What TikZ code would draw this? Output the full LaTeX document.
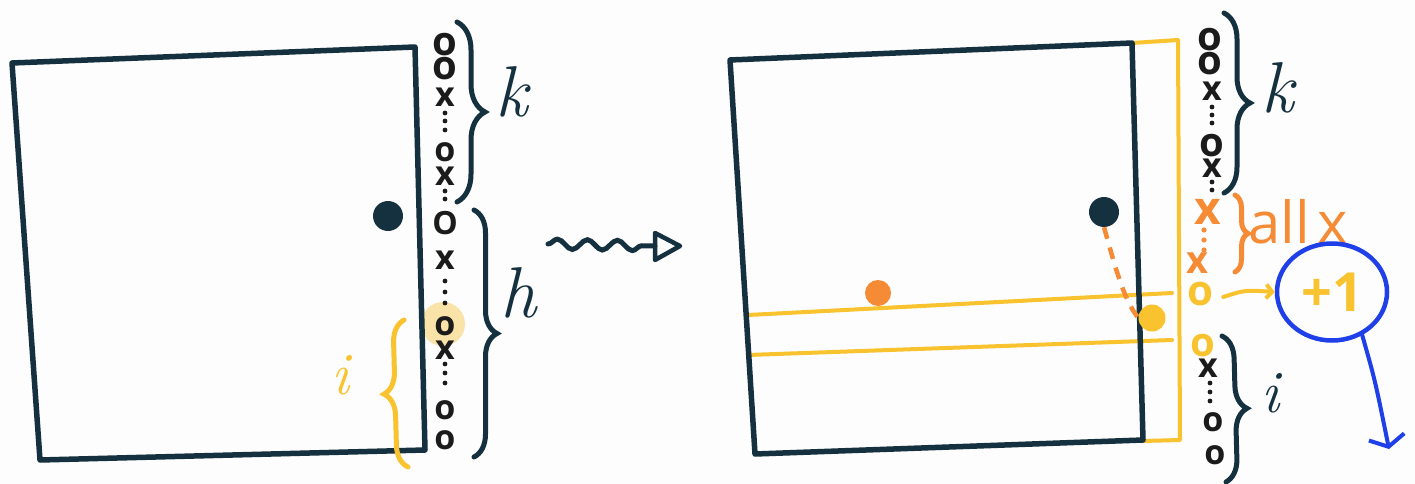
\documentclass[tikz,border=0pt]{standalone}
\usepackage{fontspec}
\newfontfamily\hand{Open Sans}
\usetikzlibrary{decorations.pathreplacing,decorations.pathmorphing,arrows.meta,shapes.geometric}
\definecolor{dk}{HTML}{15313F}
\definecolor{yl}{HTML}{F9C32F}
\definecolor{og}{HTML}{F68B36}
\definecolor{bl}{HTML}{1F40E8}
\definecolor{hl}{HTML}{F9E3A8}
\definecolor{ink}{HTML}{1B1B1B}
\definecolor{bg}{HTML}{FDFDFD}
\begin{document}
\begin{tikzpicture}[x=1pt,y=-1pt,
  sq/.style={draw=dk,line width=5.5pt,line join=round,line cap=round},
  ylin/.style={draw=yl,line width=4pt,line cap=round,line join=round},
  sym/.style={inner sep=0pt,text=ink,font=\hand\bfseries\fontsize{34}{34}\selectfont},
  bigsym/.style={sym,font=\hand\bfseries\fontsize{40}{40}\selectfont},
  brc/.style={line width=5pt,line cap=round,decorate,decoration={brace,amplitude=#1}},
  lbl/.style={inner sep=0pt,font=\fontsize{72}{72}\selectfont\itshape},
  dotc/.style={ink}
]
\fill[bg] (0,0) rectangle (1415,484);
\useasboundingbox (0,0) rectangle (1415,484);

% ---------- left panel ----------
\fill[hl] (443,324) circle (22);
\draw[sq] (12,63) -- (415,47) -- (425,450) -- (40,460) -- cycle;
\fill[dk] (388,216) circle (15);

\node[bigsym] (l1) at (445,45) {o};
\node[bigsym] (l2) at (445,69) {o};
\node[sym] (l3) at (445,97) {x};
\foreach \y in {113,121,130} \fill[dotc] (445,\y) circle (2.4);
\node[sym] (l4) at (445,152) {o};
\node[sym] (l5) at (445,176) {x};
\foreach \y in {191,199} \fill[dotc] (445,\y) circle (2.4);
\node[sym,font=\hand\bfseries\fontsize{32}{32}\selectfont] (l6) at (445,223) {O};
\node[sym] (l7) at (445,260) {x};
\foreach \y in {281,292,303} \fill[dotc] (445,\y) circle (2.4);
\node[sym] (l8) at (445,326) {o};
\node[sym] (l9) at (445,350) {x};
\foreach \y in {364,373,383} \fill[dotc] (445,\y) circle (2.4);
\node[sym] (l10) at (445,410) {o};
\node[sym] (l11) at (445,440) {o};

\draw[dk,brc=28pt] (457,22) -- (457,202);
\node[lbl,text=dk] (kl) at (512,92) {k};
\draw[dk,brc=23pt] (474,210) -- (474,457);
\node[lbl,text=dk] (hl) at (518,293) {h};
\draw[yl,brc=22pt] (408,467) -- (404,320);
\node[lbl,text=yl,font=\fontsize{60}{60}\selectfont\itshape] (il) at (340,375) {i};

% ---------- squiggly arrow ----------
\draw[dk,line width=5pt,line cap=round,decorate,
  decoration={snake,segment length=30pt,amplitude=5pt}] (548,244) -- (655,246);
\draw[dk,line width=4.5pt,line join=round] (655,233) -- (680,246) -- (655,260) -- cycle;

% ---------- right panel ----------
\draw[ylin] (748,315) -- (1172,293);
\draw[ylin] (748,355) -- (1172,340);
\draw[ylin] (1132,43) -- (1178,40) -- (1180,440) -- (1143,441);
\draw[sq] (730,60) -- (1132,43) -- (1143,440) -- (755,454) -- cycle;
\fill[og] (878,293) circle (13);
\node[circle,fill=dk,inner sep=0pt,minimum size=30pt] (dd) at (1104,212) {};
\node[circle,fill=yl,inner sep=0pt,minimum size=27pt] (yd) at (1152,318) {};
\draw[og,line width=4.5pt,dash pattern=on 12pt off 9pt] (dd.south) .. controls (1116,270) and (1124,300) .. (yd.west);

\node[bigsym] (r1) at (1210,40) {o};
\node[bigsym] (r2) at (1210,64) {o};
\node[sym] (r3) at (1212,91) {x};
\foreach \y in {107,115,123} \fill[dotc] (1212,\y) circle (2.4);
\node[bigsym] (r4) at (1212,146) {o};
\node[sym] (r5) at (1212,168) {x};
\foreach \y in {182,190} \fill[dotc] (1212,\y) circle (2.4);
\node[sym,text=og,font=\hand\bfseries\fontsize{46}{46}\selectfont] (r6) at (1208,212) {x};
\foreach \y in {230,240,250} \fill[og] (1204,\y) circle (2.6);
\node[sym,text=og,font=\hand\bfseries\fontsize{38}{38}\selectfont] (r7) at (1197,263) {x};
\node[sym,text=yl,font=\hand\bfseries\fontsize{42}{42}\selectfont] (r8) at (1200,294) {o};
\node[sym,text=yl,font=\hand\bfseries\fontsize{40}{40}\selectfont] (r9) at (1203,346) {o};
\node[sym] (r10) at (1208,368) {x};
\foreach \y in {383,392,401} \fill[dotc] (1210,\y) circle (2.4);
\node[sym] (r11) at (1213,422) {o};
\node[sym] (r12) at (1215,455) {o};

\draw[dk,brc=26pt] (1224,13) -- (1224,193);
\node[lbl,text=dk] (kr) at (1278,88) {k};
\draw[og,brc=13pt] (1235,195) -- (1235,272);
\node[inner sep=0pt,text=og,font=\hand\fontsize{58}{58}\selectfont,anchor=west] (all) at (1248,222) {all\hspace{8pt}x};
\draw[dk,brc=23pt] (1222,336) -- (1226,482);
\node[lbl,text=dk,font=\fontsize{60}{60}\selectfont\itshape] (ir) at (1270,393) {i};

\node[ellipse,draw=bl,line width=4.5pt,minimum width=110pt,minimum height=97pt,
  inner sep=0pt,text=yl,font=\hand\bfseries\fontsize{54}{54}\selectfont] (plus) at (1332,292) {+1};
\draw[yl,line width=4pt,line cap=round,-{Straight Barb[length=6pt,width=14pt]}]
  (r8.east) ++(10,3) coordinate (ys) (ys) .. controls (1245,290) .. (plus.west);
\coordinate (bend) at (1389,449);
\draw[bl,line width=4pt,line cap=round,-{Straight Barb[length=10pt,width=36pt]}]
  (plus.-55) .. controls (1375,380) .. (bend);
\end{tikzpicture}
\end{document}
